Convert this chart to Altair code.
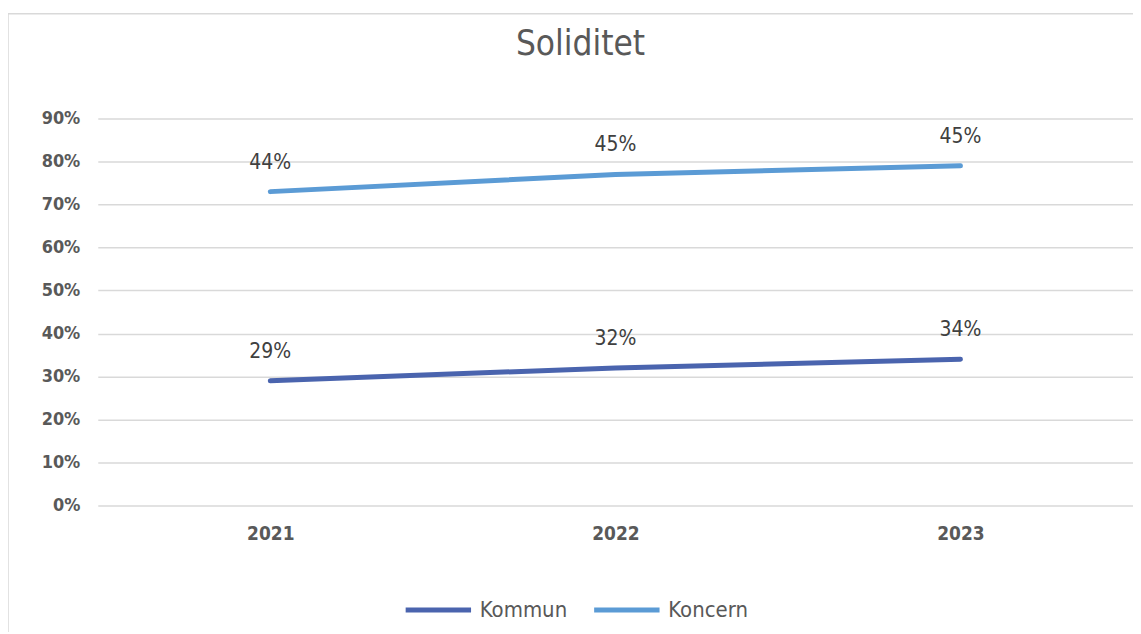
import altair as alt
import pandas as pd

years = ["2021", "2022", "2023"]
series = ["Kommun", "Koncern"]
kommun = [0.29, 0.32, 0.34]
koncern = [0.44, 0.45, 0.45]
y_ticks = [0.0, 0.1, 0.2, 0.3, 0.4, 0.5, 0.6, 0.7, 0.8, 0.9]
chart_title = "Soliditet"

rows = []
for i, y in enumerate(years):
    rows.append({"year": y, "series": "Kommun", "order": 0, "value": kommun[i]})
    rows.append({"year": y, "series": "Koncern", "order": 1, "value": koncern[i]})
df = pd.DataFrame(rows)

FONT = "DejaVu Sans Condensed, Liberation Sans Narrow, Roboto, sans-serif"
GRAY = "#595959"

base = alt.Chart(df).transform_stack(
    stack="value", groupby=["year"], as_=["y0", "y1"],
    sort=[alt.SortField("order", order="ascending")]
)

x = alt.X("year:O", title=None,
          scale=alt.Scale(type="point", padding=0.5),
          axis=alt.Axis(labelAngle=0, ticks=False, domain=False, grid=False,
                        labelFont=FONT, labelFontSize=19, labelFontWeight="bold",
                        labelColor=GRAY, labelPadding=19))
y = alt.Y("y1:Q", title=None,
          scale=alt.Scale(domain=[0, 0.9], nice=False),
          axis=alt.Axis(values=y_ticks, format=".0%", ticks=False, domain=False,
                        grid=True, gridColor="#d9d9d9", gridWidth=1.5,
                        labelFont=FONT, labelFontSize=18, labelFontWeight="bold",
                        labelColor=GRAY, labelPadding=18))
color = alt.Color("series:N", title=None,
                  scale=alt.Scale(domain=series, range=["#4A64AE", "#5B9BD5"]),
                  legend=alt.Legend(orient="none", legendX=306, legendY=457,
                                    direction="horizontal", symbolType="stroke",
                                    symbolSize=4300, symbolStrokeWidth=5,
                                    labelFont=FONT, labelFontSize=22,
                                    labelColor=GRAY, columnPadding=16,
                                    labelOffset=6))

lines = base.mark_line(strokeWidth=5, strokeCap="round").encode(
    x=x, y=y, color=color, detail="series:N", order="year:O")

labels = base.mark_text(dy=-29, font=FONT, fontSize=21, color="#404040").encode(
    x=x, y=y, text=alt.Text("value:Q", format=".0%"))

title_df = pd.DataFrame({"t": [chart_title]})
title = alt.Chart(title_df).mark_text(font=FONT, fontSize=35, color=GRAY,
                                      align="center", baseline="middle").encode(
    x=alt.value(484), y=alt.value(-75), text="t:N")

border = alt.Chart(title_df).mark_rule(color="#d9d9d9", strokeWidth=1.5).encode(
    x=alt.value(-90), x2=alt.value(1045), y=alt.value(-105))
border_l = alt.Chart(title_df).mark_rule(color="#d9d9d9", strokeWidth=1.5).encode(
    x=alt.value(-90), y=alt.value(-105), y2=alt.value(520))

chart = alt.layer(border, border_l, title, lines, labels).properties(
    width=1038, height=388,
    autosize=alt.AutoSizeParams(type="none"),
    padding={"left": 90, "top": 110, "right": 0, "bottom": 126},
).configure_view(stroke=None)

chart.save("out.html", embed_options={"renderer": "svg", "actions": False})
